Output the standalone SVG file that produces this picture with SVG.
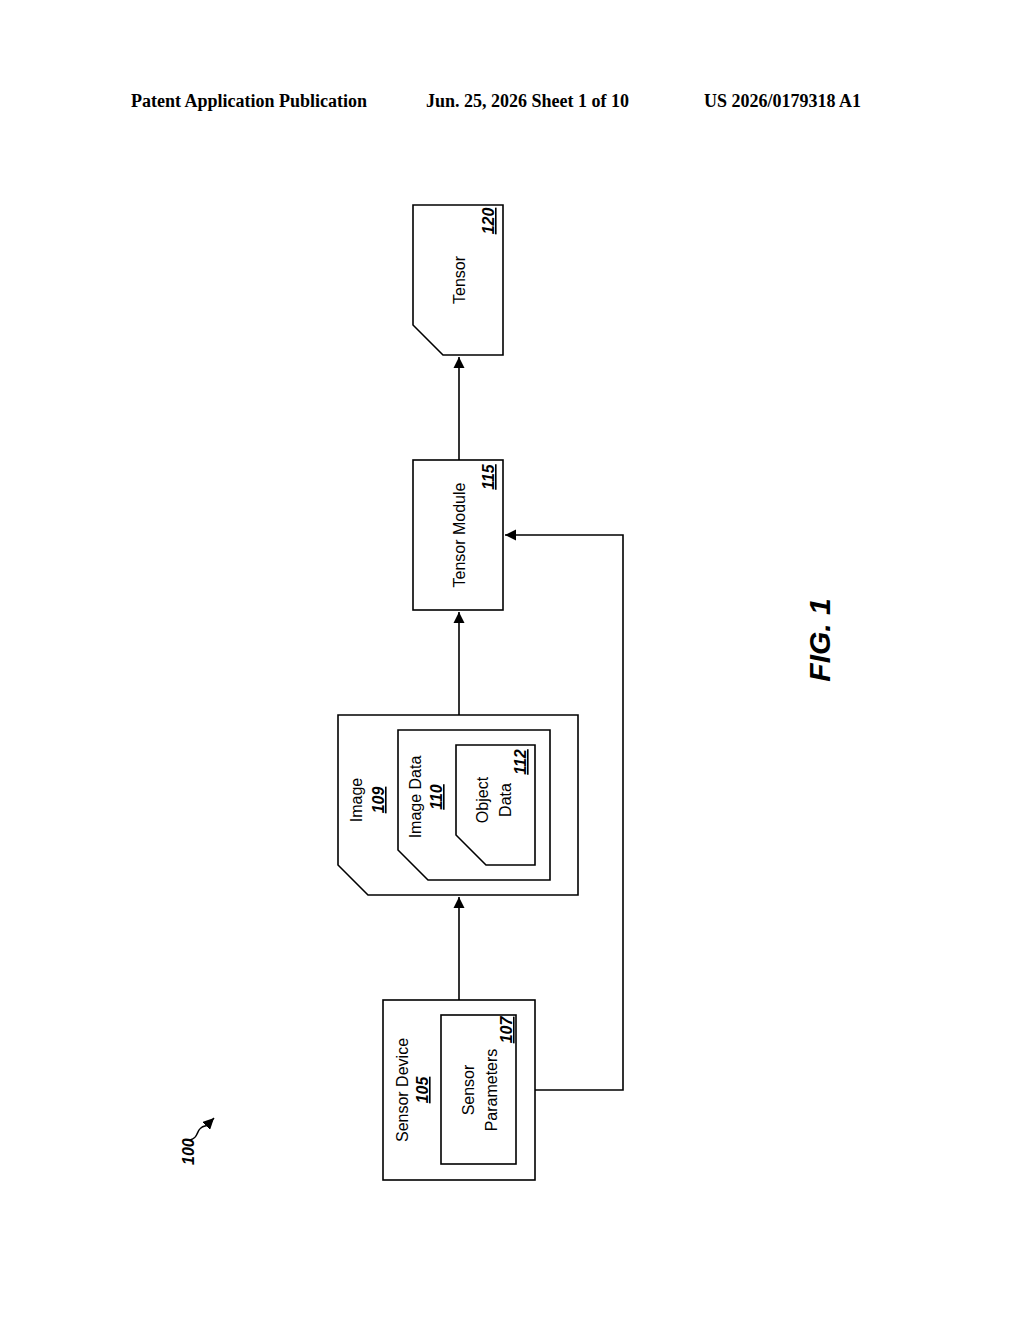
<svg xmlns="http://www.w3.org/2000/svg" width="1024" height="1320" viewBox="0 0 1024 1320">
<style>
.b{fill:#fff;stroke:#000;stroke-width:1.6}
.t{font-family:"Liberation Sans",Arial,sans-serif;font-size:16px;fill:#000;text-anchor:middle}
.n{font-family:"Liberation Sans",Arial,sans-serif;font-size:16px;font-weight:bold;font-style:italic;text-decoration:underline;fill:#000;text-anchor:middle}
.h{font-family:"Liberation Serif","Times New Roman",serif;font-size:18px;font-weight:bold;fill:#000}
.c{fill:none;stroke:#000;stroke-width:1.6}
</style>
<defs><marker id="a" viewBox="0 0 10 10" refX="10" refY="5" markerWidth="7" markerHeight="7" orient="auto"><path d="M0,0L10,5L0,10z" fill="#000"/></marker></defs>
<text class="h" x="131" y="107">Patent Application Publication</text>
<text class="h" x="426" y="107">Jun. 25, 2026  Sheet 1 of 10</text>
<text class="h" x="704" y="107">US 2026/0179318 A1</text>
<g id="connectors">
<path class="c" d="M459,1000V897" marker-end="url(#a)"/>
<path class="c" d="M459,715V612" marker-end="url(#a)"/>
<path class="c" d="M459,460V357" marker-end="url(#a)"/>
<path class="c" d="M535,1090H623V535H505" marker-end="url(#a)"/>
</g>
<g id="n105"><rect class="b" x="383" y="1000" width="152" height="180"/>
<text class="t" transform="translate(408,1090) rotate(-90)">Sensor Device</text>
<text class="n" transform="translate(428,1090) rotate(-90)">105</text></g>
<g id="n107"><rect class="b" x="441" y="1015" width="75" height="149"/>
<text class="t" transform="translate(474,1090) rotate(-90)">Sensor</text>
<text class="t" transform="translate(497,1090) rotate(-90)">Parameters</text>
<text class="n" transform="translate(512,1030) rotate(-90)">107</text></g>
<g id="n109"><path class="b" d="M338,715H578V895H368L338,865Z"/>
<text class="t" transform="translate(362,800) rotate(-90)">Image</text>
<text class="n" transform="translate(384,800) rotate(-90)">109</text></g>
<g id="n110"><path class="b" d="M398,730H550V880H428L398,850Z"/>
<text class="t" transform="translate(421,797) rotate(-90)">Image Data</text>
<text class="n" transform="translate(442,797) rotate(-90)">110</text></g>
<g id="n112"><path class="b" d="M456,745H535V865H486L456,835Z"/>
<text class="t" transform="translate(488,800) rotate(-90)">Object</text>
<text class="t" transform="translate(511,800) rotate(-90)">Data</text>
<text class="n" transform="translate(526,762) rotate(-90)">112</text></g>
<g id="n115"><rect class="b" x="413" y="460" width="90" height="150"/>
<text class="t" transform="translate(465,535) rotate(-90)">Tensor Module</text>
<text class="n" transform="translate(494,477) rotate(-90)">115</text></g>
<g id="n120"><path class="b" d="M413,205H503V355H443L413,325Z"/>
<text class="t" transform="translate(465,280) rotate(-90)">Tensor</text>
<text class="n" transform="translate(494,221) rotate(-90)">120</text></g>
<g id="n100">
<text font-family="Liberation Sans,Arial,sans-serif" font-size="16" font-weight="bold" font-style="italic" transform="translate(194,1165) rotate(-90)">100</text>
<path class="c" d="M190,1140C200,1138 195,1128 205,1126C212,1125 210,1122 214,1118" marker-end="url(#a)"/>
</g>
<text font-family="Liberation Sans,Arial,sans-serif" font-size="30" font-weight="bold" font-style="italic" text-anchor="middle" transform="translate(830,640) rotate(-90)">FIG. 1</text>
</svg>
